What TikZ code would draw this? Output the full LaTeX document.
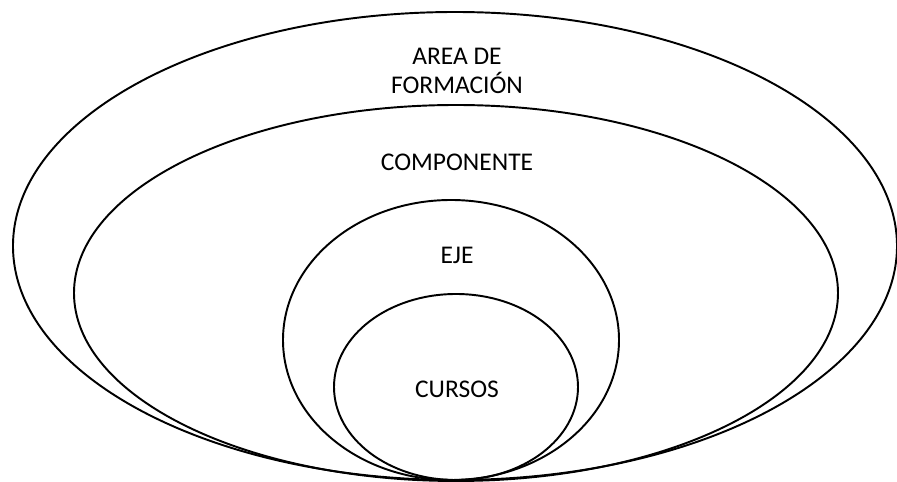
\documentclass[tikz,border=0pt]{standalone}
\usepackage{fontspec}
\setmainfont{Carlito}
\usetikzlibrary{positioning}

\tikzset{
  ring/.style={draw=black,line width=1.1pt},
  label/.style={font=\fontsize{14.5}{16.5}\selectfont,align=center,inner sep=0pt}
}

\begin{document}
\begin{tikzpicture}[x=0.02cm,y=-0.02cm]
    \useasboundingbox (0,0) rectangle (897,482);
    % nested rings, all touching at the bottom
    \foreach \cx/\cy/\rx/\ry in {455/246/442/234, 456/293/382/188, 451/340/168/140, 456/387/122/93} {
      \draw[ring] (\cx,\cy) ellipse ({\rx} and {\ry});
    }
    \node[label] (area) at (457,71) {AREA DE\\FORMACIÓN};
    \node[label] (comp) at (457,162) {COMPONENTE};
    \node[label] (eje) at (457,255) {EJE};
    \node[label] (cursos) at (457,389) {CURSOS};
  \end{tikzpicture}
\end{document}
